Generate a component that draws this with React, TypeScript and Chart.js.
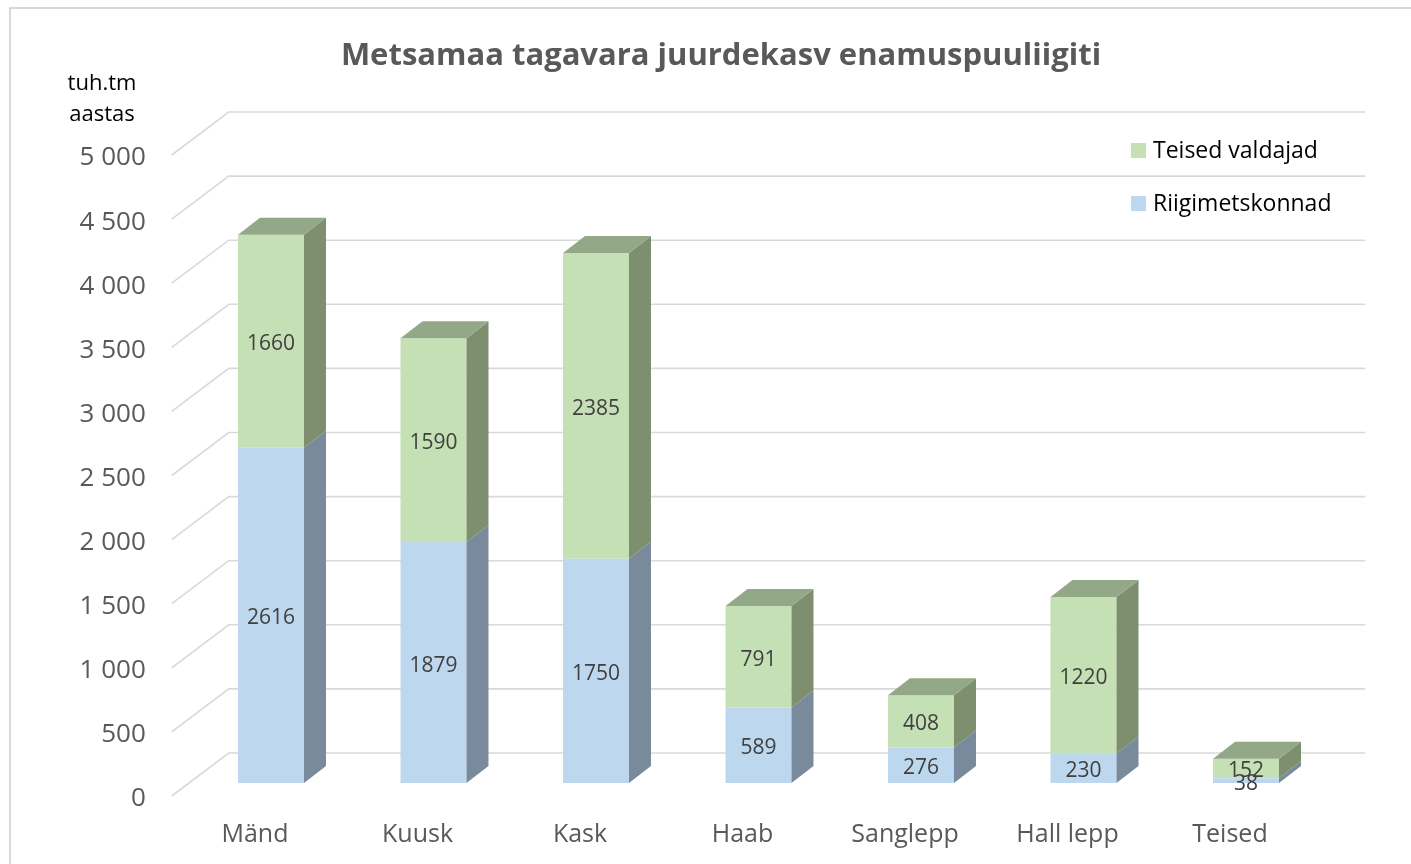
import React, { useEffect, useRef } from "react";
import { Chart, registerables } from "chart.js";

Chart.register(...registerables);

const chartTitle = "Metsamaa tagavara juurdekasv enamuspuuliigiti";
const axisTitle = ["tuh.tm", "aastas"];
const categories = ["Mänd", "Kuusk", "Kask", "Haab", "Sanglepp", "Hall lepp", "Teised"];
const riigimetskonnad = [2616, 1879, 1750, 589, 276, 230, 38];
const teisedValdajad = [1660, 1590, 2385, 791, 408, 1220, 152];
const seriesNames = ["Riigimetskonnad", "Teised valdajad"];
const yMin = 0;
const yMax = 5000;
const yStep = 500;

const FONT = "'Open Sans', 'DejaVu Sans', sans-serif";
const frontColors = ["#BDD7EE", "#C5E0B4"];
const sideColors = ["#788A9B", "#7E8F70"];
const topColors = ["#94A8BB", "#93A886"];
const DX = 22;
const DY = 17;

const formatTick = (v: number) => {
  const s = String(Math.round(v));
  return s.replace(/\B(?=(\d{3})+(?!\d))/g, " ");
};

const threeDPlugin = {
  id: "threeD",
  beforeDatasetsDraw(chart: any) {
    const ctx = chart.ctx;
    const ys = chart.scales.y;
    const area = chart.chartArea;
    ctx.save();
    ctx.strokeStyle = "#d9d9d9";
    ctx.lineWidth = 1.6;
    ys.ticks.forEach((t: any) => {
      const p = ys.getPixelForValue(t.value);
      ctx.beginPath();
      ctx.moveTo(area.left - 18, p + 13);
      ctx.lineTo(area.left + 39, p - 30);
      ctx.lineTo(area.right + 38, p - 30);
      ctx.stroke();
    });
    ctx.restore();
  },
  afterDatasetsDraw(chart: any) {
    const ctx = chart.ctx;
    const metas = chart.getSortedVisibleDatasetMetas();
    const n = categories.length;
    ctx.save();
    for (let i = 0; i < n; i++) {
      metas.forEach((meta: any, mi: number) => {
        const el = meta.data[i];
        const { x, y, base, width } = el.getProps(["x", "y", "base", "width"], true);
        const left = x - width / 2;
        const right = x + width / 2;
        const top = Math.min(y, base);
        const bottom = Math.max(y, base);
        const di = meta.index;
        ctx.fillStyle = sideColors[di];
        ctx.beginPath();
        ctx.moveTo(right, top);
        ctx.lineTo(right + DX, top - DY);
        ctx.lineTo(right + DX, bottom - DY);
        ctx.lineTo(right, bottom);
        ctx.closePath();
        ctx.fill();
        if (mi === metas.length - 1) {
          ctx.fillStyle = topColors[di];
          ctx.beginPath();
          ctx.moveTo(left, top);
          ctx.lineTo(left + DX, top - DY);
          ctx.lineTo(right + DX, top - DY);
          ctx.lineTo(right, top);
          ctx.closePath();
          ctx.fill();
        }
      });
    }
    ctx.fillStyle = "#404040";
    ctx.font = `21px ${FONT}`;
    ctx.textAlign = "center";
    ctx.textBaseline = "middle";
    metas.forEach((meta: any) => {
      const ds = chart.data.datasets[meta.index];
      meta.data.forEach((el: any, i: number) => {
        const { x, y, base } = el.getProps(["x", "y", "base"], true);
        ctx.fillText(String(ds.data[i]), x, (y + base) / 2 + 3);
      });
    });
    ctx.restore();
  },
  afterDraw(chart: any) {
    const ctx = chart.ctx;
    ctx.save();
    // outer border
    ctx.strokeStyle = "#d9d9d9";
    ctx.lineWidth = 2;
    ctx.strokeRect(10, 8, 1430, 900);
    // title
    ctx.fillStyle = "#595959";
    ctx.font = `bold 31px ${FONT}`;
    ctx.textAlign = "center";
    ctx.textBaseline = "middle";
    ctx.fillText(chartTitle, 721, 56);
    // axis title
    ctx.fillStyle = "#000000";
    ctx.font = `22px ${FONT}`;
    ctx.fillText(axisTitle[0], 102, 84);
    ctx.fillText(axisTitle[1], 102, 115);
    // legend (reversed order)
    const entries = [1, 0];
    ctx.textAlign = "left";
    ctx.font = `23px ${FONT}`;
    entries.forEach((di, k) => {
      const cy = 151 + k * 53;
      ctx.fillStyle = frontColors[di];
      ctx.fillRect(1131, cy - 8, 15, 15);
      ctx.fillStyle = "#000000";
      ctx.fillText(seriesNames[di], 1153, cy);
    });
    ctx.restore();
  },
};

export default function App() {
  const ref = useRef<HTMLCanvasElement | null>(null);
  useEffect(() => {
    if (!ref.current) return;
    const chart = new Chart(ref.current, {
      type: "bar",
      data: {
        labels: categories,
        datasets: [
          { label: seriesNames[0], data: riigimetskonnad, backgroundColor: frontColors[0], borderWidth: 0 },
          { label: seriesNames[1], data: teisedValdajad, backgroundColor: frontColors[1], borderWidth: 0 },
        ],
      },
      options: {
        animation: false,
        responsive: false,
        devicePixelRatio: 1,
        layout: { padding: { left: 0, right: 83.75, top: 142, bottom: 0 } },
        plugins: { legend: { display: false }, title: { display: false }, tooltip: { enabled: false } },
        datasets: { bar: { barPercentage: 0.406, categoryPercentage: 1 } },
        scales: {
          x: {
            stacked: true,
            grid: { display: false, drawTicks: false },
            border: { display: false },
            ticks: { font: { family: FONT, size: 25 }, color: "#595959", labelOffset: -16, padding: 37, maxRotation: 0, autoSkip: false },
            afterFit: (s: any) => { s.height = 81; },
          },
          y: {
            stacked: true,
            min: yMin,
            max: yMax,
            grid: { display: false, drawTicks: false },
            border: { display: false },
            ticks: { stepSize: yStep, font: { family: FONT, size: 26 }, color: "#595959", labelOffset: 16, padding: 44, callback: (v: any) => formatTick(Number(v)) },
            afterFit: (s: any) => { s.width = 189.75; },
          },
        },
      },
      plugins: [threeDPlugin],
    } as any);
    return () => chart.destroy();
  }, []);
  return (
    <div style={{ position: "absolute", left: 0, top: 0, width: 1411, height: 864, background: "#fff" }}>
      <canvas ref={ref} width={1411} height={864} style={{ display: "block" }} />
    </div>
  );
}
